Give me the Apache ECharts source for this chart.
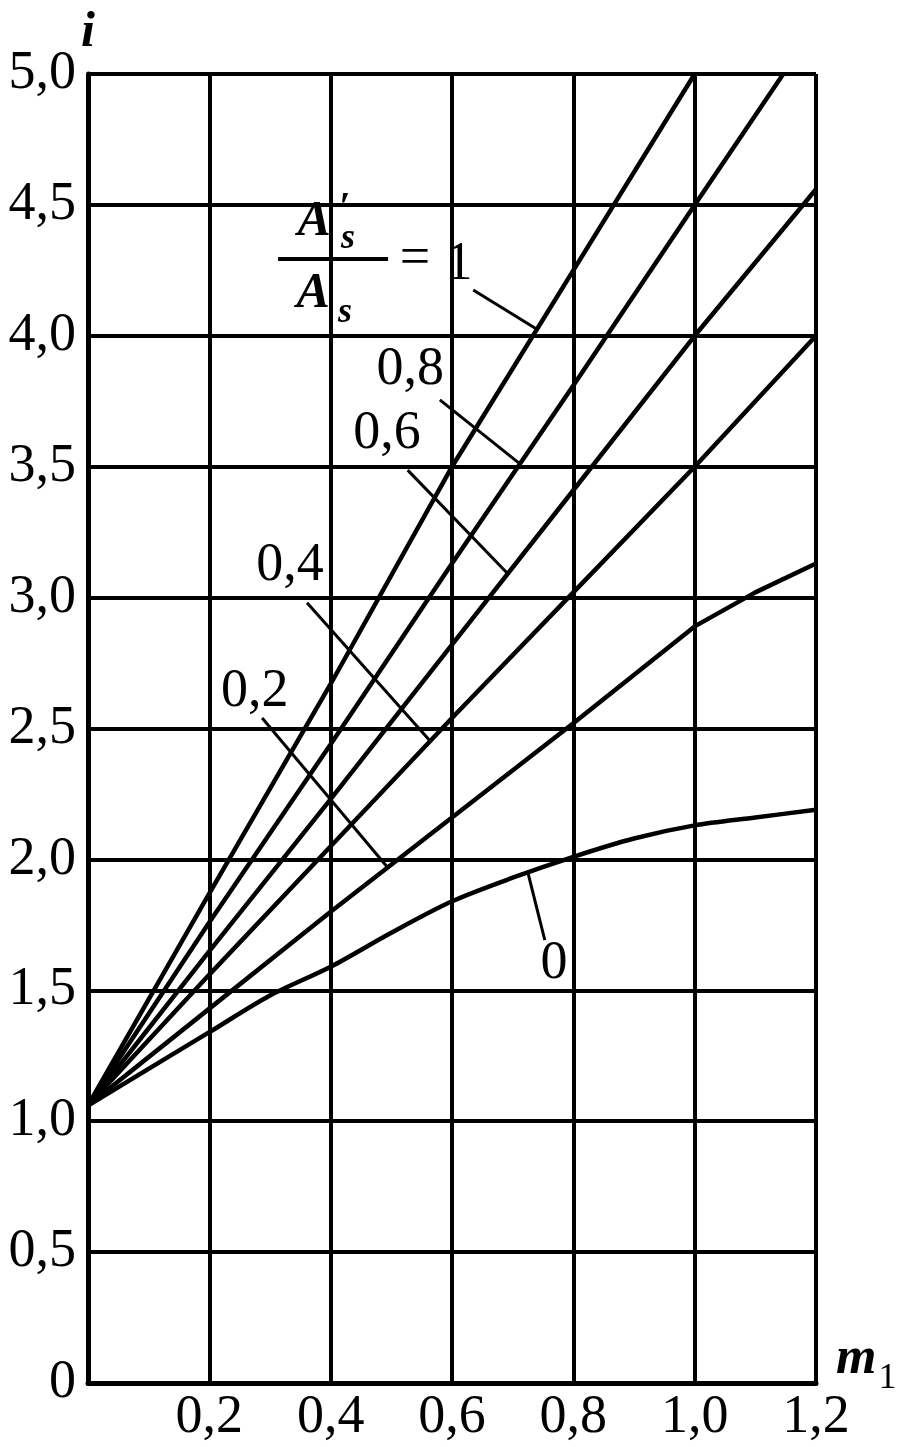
<!DOCTYPE html>
<html><head><meta charset="utf-8">
<script src="https://cdn.jsdelivr.net/npm/echarts@6/dist/echarts.min.js"></script>
<style>html,body{margin:0;padding:0;background:#fff}#c{width:903px;height:1447px}</style>
</head><body><div id="c"></div>
<script>
// ---- data ----
const curveNames = ['1', '0,8', '0,6', '0,4', '0,2', '0'];
const m1_r10 = [0, 0.2, 0.4, 0.6, 0.8, 1.0];
const i_r10  = [1.06, 1.87, 2.67, 3.5, 4.25, 5.0];
const m1_r08 = [0, 0.2, 0.4, 0.6, 0.8, 1.0, 1.146];
const i_r08  = [1.06, 1.76, 2.44, 3.13, 3.81, 4.5, 5.0];
const m1_r06 = [0, 0.2, 0.4, 0.6, 0.8, 1.0, 1.2];
const i_r06  = [1.06, 1.65, 2.23, 2.82, 3.41, 4.0, 4.56];
const m1_r04 = [0, 0.2, 0.4, 0.6, 0.8, 1.0, 1.2];
const i_r04  = [1.06, 1.56, 2.05, 2.54, 3.02, 3.5, 4.0];
const m1_r02 = [0, 0.2, 0.4, 0.6, 0.8, 1.0, 1.1, 1.2];
const i_r02  = [1.06, 1.43, 1.80, 2.16, 2.52, 2.89, 3.02, 3.13];
const m1_r00 = [0, 0.2, 0.3, 0.4, 0.5, 0.6, 0.7, 0.8, 0.9, 1.0, 1.1, 1.2];
const i_r00  = [1.06, 1.34, 1.48, 1.59, 1.72, 1.84, 1.93, 2.01, 2.08, 2.13, 2.16, 2.19];
const xTickStep = 0.2, xMax = 1.2;
const yTickStep = 0.5, yMax = 5.0;

const curvesX = [m1_r10, m1_r08, m1_r06, m1_r04, m1_r02, m1_r00];
const curvesY = [i_r10, i_r08, i_r06, i_r04, i_r02, i_r00];

// annotation placement (data coordinates): label centre, leader start, leader end x on curve
const labelAt   = [null, [0.531, 3.87], [0.493, 3.625], [0.333, 3.12], [0.275, 2.64], [0.768, 1.60]];
const leaderFrom = [[0.635, 4.175], [0.58, 3.755], [0.527, 3.487], [0.361, 2.98], [0.287, 2.54], [0.753, 1.692]];
const leaderToX  = [0.74, 0.712, 0.692, 0.564, 0.494, 0.725];
const fractionAt = [0.404, 4.293];

const FONT = "'Liberation Serif','Times New Roman',serif";

function interp(xs, ys, x) {
  for (let k = 0; k < xs.length - 1; k++) {
    if (x >= xs[k] && x <= xs[k + 1]) {
      const t = (x - xs[k]) / (xs[k + 1] - xs[k]);
      return ys[k] + t * (ys[k + 1] - ys[k]);
    }
  }
  return ys[ys.length - 1];
}
function fmt(v) { return v === 0 ? '0' : v.toFixed(1).replace('.', ','); }

const series = [];
curvesX.forEach((xs, k) => {
  series.push({
    type: 'line', name: curveNames[k], showSymbol: false, symbol: 'none',
    smooth: k === 5 ? 0.3 : 0, silent: true,
    lineStyle: { color: '#000', width: 4.5 },
    data: xs.map((x, j) => [x, curvesY[k][j]]),
    z: 5
  });
  const ex = leaderToX[k];
  series.push({
    type: 'line', showSymbol: false, symbol: 'none', silent: true,
    lineStyle: { color: '#000', width: 3 },
    data: [leaderFrom[k], [ex, interp(xs, curvesY[k], ex)]],
    z: 6
  });
});

const chart = echarts.init(document.getElementById('c'), null, { renderer: 'canvas' });
chart.setOption({
  animation: false,
  backgroundColor: '#fff',
  grid: { left: 88, right: 87, top: 74, bottom: 64, containLabel: false, outerBoundsMode: 'none' },
  xAxis: {
    type: 'value', min: 0, max: xMax, interval: xTickStep,
    name: '{m|m}{s|1}', nameLocation: 'end', nameGap: 20, nameMoveOverlap: false,
    nameTextStyle: {
      verticalAlign: 'bottom', padding: [0, 0, -14, 0],
      rich: {
        m: { fontFamily: FONT, fontStyle: 'italic', fontWeight: 'bold', fontSize: 52, color: '#000' },
        s: { fontFamily: FONT, fontSize: 36, color: '#000', padding: [38, 0, 0, 2] }
      }
    },
    axisLine: { show: true, onZero: false, lineStyle: { color: '#000', width: 5 } },
    axisTick: { show: false },
    splitLine: { show: true, lineStyle: { color: '#000', width: 4 } },
    axisLabel: {
      margin: 8, fontFamily: FONT, fontSize: 54, color: '#000',
      formatter: v => (v === 0 ? '' : fmt(v))
    }
  },
  yAxis: {
    type: 'value', min: 0, max: yMax, interval: yTickStep,
    name: 'i', nameLocation: 'end', nameGap: 16, nameMoveOverlap: false,
    nameTextStyle: { fontFamily: FONT, fontStyle: 'italic', fontWeight: 'bold', fontSize: 50, color: '#000', align: 'center' },
    axisLine: { show: true, onZero: false, lineStyle: { color: '#000', width: 5 } },
    axisTick: { show: false },
    splitLine: { show: true, lineStyle: { color: '#000', width: 4 } },
    axisLabel: {
      margin: 12, fontFamily: FONT, fontSize: 54, color: '#000',
      formatter: v => fmt(v)
    }
  },
  series: series
});

// ---- annotations placed through the chart's own coordinate conversion ----
const px = p => chart.convertToPixel({ gridIndex: 0 }, p);
const g = [];
labelAt.forEach((p, k) => {
  if (!p) return;
  const q = px(p);
  g.push({ type: 'text', x: q[0], y: q[1], z: 20,
    style: { text: curveNames[k], font: `54px ${FONT}`, fill: '#000', align: 'center', verticalAlign: 'middle' } });
});
const f = px(fractionAt);
const big = `italic bold 50px ${FONT}`;
const sub = `italic bold 36px ${FONT}`;
const T = (t, dx, dy, font) => ({ type: 'text', x: f[0] + dx, y: f[1] + dy, z: 20,
  style: { text: t, font: font, fill: '#000', align: 'center', verticalAlign: 'middle' } });
g.push(T('A', -19, -37, big));
g.push(T('\u2032', 12, -50, `bold 40px ${FONT}`));
g.push(T('s', 15, -20, sub));
g.push({ type: 'rect', z: 20, shape: { x: f[0] - 55, y: f[1] - 2, width: 110, height: 4 }, style: { fill: '#000' } });
g.push(T('A', -20, 35, big));
g.push(T('s', 12, 54, sub));
g.push(T('=', 82, 1, `54px ${FONT}`));
g.push(T('1', 126, 6, `54px ${FONT}`));
chart.setOption({ graphic: g });
</script>
</body></html>
